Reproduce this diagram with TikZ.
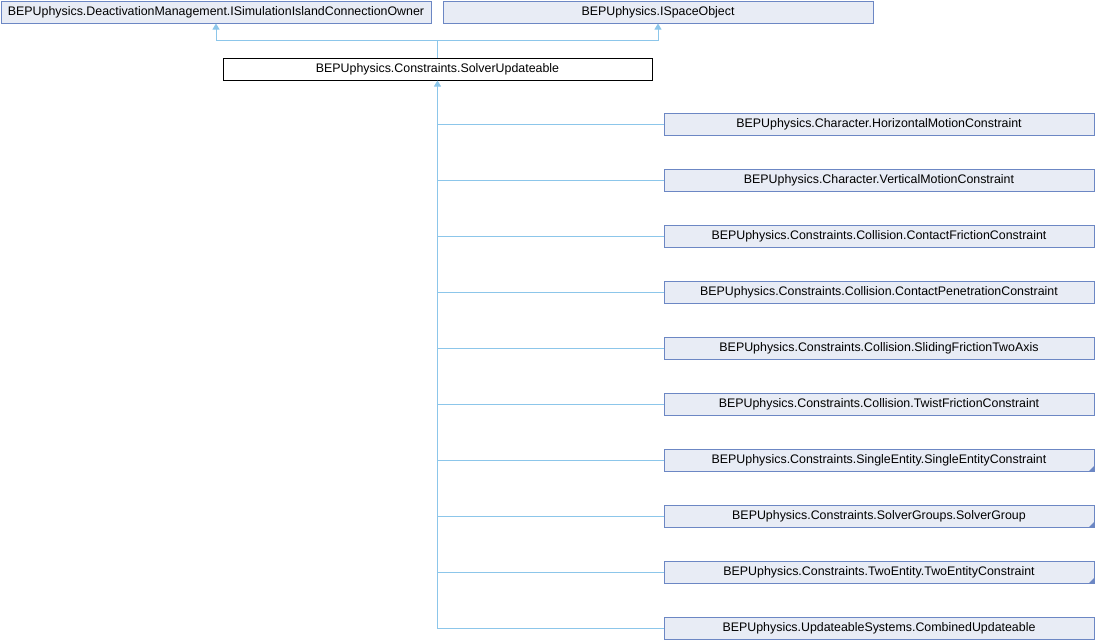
\documentclass[tikz,border=0pt]{standalone}
\usepackage{fontspec}
\setmainfont{Liberation Sans}
\usepackage{tikz}
\usetikzlibrary{calc}
\usetikzlibrary{arrows.meta}
\usetikzlibrary{positioning}
\definecolor{boxfill}{HTML}{E8ECF5}
\definecolor{boxline}{HTML}{6C87C4}
\definecolor{edgeblue}{HTML}{8CC6EA}

\tikzset{
  cls/.style={draw=boxline, fill=boxfill, line width=1pt, inner sep=0pt,
    minimum width=430pt, minimum height=22pt, anchor=north west,
    font=\fontsize{12.4}{14}\selectfont},
  mainclass/.style={cls, draw=black, fill=white, minimum width=429pt},
  edge/.style={draw=edgeblue, line width=1pt},
  inh/.style={edge, {Triangle[length=6pt, width=7pt, fill=edgeblue]}-},
}
\newcommand{\moremark}[1]{%
  \fill[boxline] ($(#1.south east)+(0,0)$) -- ++(-6,0) -- ++(6,-6) -- cycle;}

\begin{document}
\begin{tikzpicture}[x=1pt, y=-1pt, line cap=butt, line join=miter]
  \useasboundingbox (0,0) rectangle (1095,640);
  %--- Parents
    \node[cls] (owner) at (0.5,0.5) {BEPUphysics.DeactivationManagement.ISimulationIslandConnectionOwner};
    \node[cls] (space) at (442.5,0.5) {BEPUphysics.ISpaceObject};
  %--- SolverUpdateable
    \node[mainclass] (upd) at (222.5,57.5) {BEPUphysics.Constraints.SolverUpdateable};
  %--- Children
    \node[cls] (horiz) at (663.5,112.5) {BEPUphysics.Character.HorizontalMotionConstraint};
    \node[cls] (vert) at (663.5,168.5) {BEPUphysics.Character.VerticalMotionConstraint};
    \node[cls] (cfric) at (663.5,224.5) {BEPUphysics.Constraints.Collision.ContactFrictionConstraint};
    \node[cls] (cpen) at (663.5,280.5) {BEPUphysics.Constraints.Collision.ContactPenetrationConstraint};
    \node[cls] (slide) at (663.5,336.5) {BEPUphysics.Constraints.Collision.SlidingFrictionTwoAxis};
    \node[cls] (twist) at (663.5,392.5) {BEPUphysics.Constraints.Collision.TwistFrictionConstraint};
    \node[cls] (single) at (663.5,448.5) {BEPUphysics.Constraints.SingleEntity.SingleEntityConstraint};
    \node[cls] (group) at (663.5,504.5) {BEPUphysics.Constraints.SolverGroups.SolverGroup};
    \node[cls] (two) at (663.5,560.5) {BEPUphysics.Constraints.TwoEntity.TwoEntityConstraint};
    \node[cls] (comb) at (663.5,616.5) {BEPUphysics.UpdateableSystems.CombinedUpdateable};
    \moremark{single}
    \moremark{group}
    \moremark{two}
  %--- Inheritance to parents
    \coordinate (split) at ($(upd.north)+(0,-17)$);
    \draw[edge] (upd.north) -- (split);
    \draw[inh] (owner.south) |- (split);
    \draw[inh] (space.south) |- (split);
  %--- Inheritance from children
    \draw[inh] (upd.south) -- (upd.south |- comb.west) -- (comb.west);
    \foreach \c in {horiz, vert, cfric, cpen, slide, twist, single, group, two}
      \draw[edge] (upd.south |- \c.west) -- (\c.west);
\end{tikzpicture}
\end{document}
